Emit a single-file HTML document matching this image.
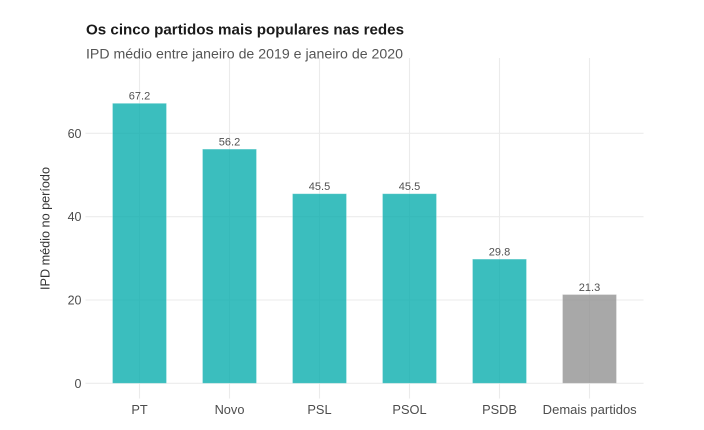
<!DOCTYPE html>
<html>
<head>
<meta charset="utf-8">
<style>
  html,body{margin:0;padding:0;background:#fff;}
  svg{display:block;}
  text{font-family:"Liberation Sans", Arial, sans-serif;}
</style>
</head>
<body>
<svg width="704" height="430" viewBox="0 0 704 430" xmlns="http://www.w3.org/2000/svg">
  <rect width="704" height="430" fill="#ffffff"/>
  <!-- gridlines -->
  <g stroke="#ebebeb" stroke-width="1.1">
    <line x1="85.5" x2="643.5" y1="383.3" y2="383.3"/>
    <line x1="85.5" x2="643.5" y1="300" y2="300"/>
    <line x1="85.5" x2="643.5" y1="216.7" y2="216.7"/>
    <line x1="85.5" x2="643.5" y1="133.3" y2="133.3"/>
    <line x1="139.5" x2="139.5" y1="58" y2="398.5"/>
    <line x1="229.5" x2="229.5" y1="58" y2="398.5"/>
    <line x1="319.5" x2="319.5" y1="58" y2="398.5"/>
    <line x1="409.5" x2="409.5" y1="58" y2="398.5"/>
    <line x1="499.5" x2="499.5" y1="58" y2="398.5"/>
    <line x1="589.5" x2="589.5" y1="58" y2="398.5"/>
  </g>
  <!-- bars -->
  <g fill-opacity="0.8" stroke="#ffffff" stroke-opacity="0.35" stroke-width="0.8">
    <rect x="112.5" y="103.3" width="54" height="280" fill="#0aaeae"/>
    <rect x="202.5" y="149.1" width="54" height="234.2" fill="#0aaeae"/>
    <rect x="292.5" y="193.7" width="54" height="189.6" fill="#0aaeae"/>
    <rect x="382.5" y="193.7" width="54" height="189.6" fill="#0aaeae"/>
    <rect x="472.5" y="259.1" width="54" height="124.2" fill="#0aaeae"/>
    <rect x="562.5" y="294.5" width="54" height="88.8" fill="#929292"/>
  </g>
  <!-- value labels -->
  <g font-size="11" fill="#505050" text-anchor="middle">
    <text x="139.5" y="99.6">67.2</text>
    <text x="229.5" y="145.4">56.2</text>
    <text x="319.5" y="190">45.5</text>
    <text x="409.5" y="190">45.5</text>
    <text x="499.5" y="255.4">29.8</text>
    <text x="589.5" y="290.8">21.3</text>
  </g>
  <!-- y tick labels -->
  <g font-size="12.5" fill="#4d4d4d" text-anchor="end">
    <text x="81.5" y="387.8">0</text>
    <text x="81.5" y="304.5">20</text>
    <text x="81.5" y="221.2">40</text>
    <text x="81.5" y="137.8">60</text>
  </g>
  <!-- x tick labels -->
  <g font-size="12.8" fill="#4d4d4d" text-anchor="middle">
    <text x="139.5" y="413.8">PT</text>
    <text x="229.5" y="413.8">Novo</text>
    <text x="319.5" y="413.8">PSL</text>
    <text x="409.5" y="413.8">PSOL</text>
    <text x="499.5" y="413.8">PSDB</text>
    <text x="589.7" y="413.8" textLength="94" lengthAdjust="spacingAndGlyphs">Demais partidos</text>
  </g>
  <!-- y axis title -->
  <text transform="translate(49.5,228.5) rotate(-90)" font-size="12.5" fill="#333333" text-anchor="middle" textLength="123" lengthAdjust="spacingAndGlyphs">IPD médio no período</text>
  <!-- title & subtitle -->
  <text x="86" y="34.5" font-size="14.5" font-weight="bold" fill="#1a1a1a" textLength="318" lengthAdjust="spacingAndGlyphs">Os cinco partidos mais populares nas redes</text>
  <text x="86" y="58.3" font-size="13.5" fill="#555555" textLength="317" lengthAdjust="spacingAndGlyphs">IPD médio entre janeiro de 2019 e janeiro de 2020</text>
</svg>
</body>
</html>
